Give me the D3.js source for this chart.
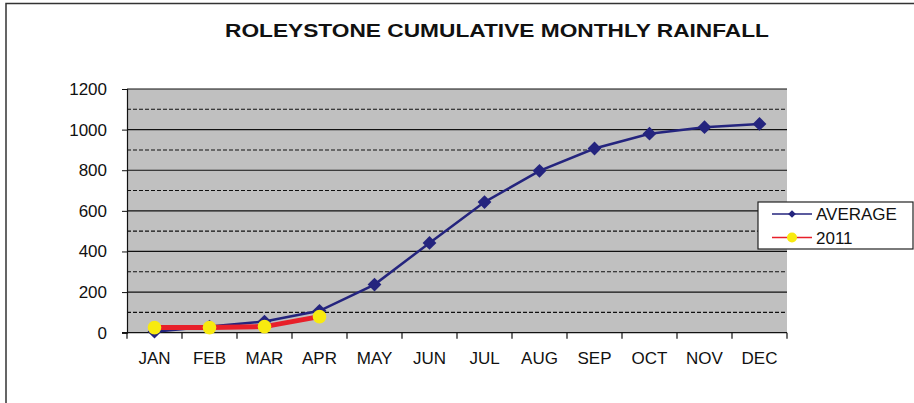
<!DOCTYPE html>
<html><head><meta charset="utf-8">
<script src="https://cdn.jsdelivr.net/npm/d3@7"></script>
<style>body{margin:0;background:#fff}svg{display:block;font-family:"Liberation Sans",Arial,sans-serif}</style>
</head><body>
<svg id="c" width="914" height="403"></svg>
<script>
const months = ["JAN","FEB","MAR","APR","MAY","JUN","JUL","AUG","SEP","OCT","NOV","DEC"];
const average = [5,30,55,108,237,442,643,797,907,980,1012,1028];
const y2011 = [25,25,30,79];
const yTicks = [0,200,400,600,800,1000,1200];
const dashTicks = [100,300,500,700,900,1100];
const title = "ROLEYSTONE CUMULATIVE MONTHLY RAINFALL";

const svg = d3.select("#c");
const L=127,R=787,T=89,B=332.7;
svg.append("path").attr("d","M6,403V3.5H914").attr("fill","none").attr("stroke","#333").attr("stroke-width",1.5);

const x = d3.scaleBand().domain(months).range([L,R]);
const y = d3.scaleLinear().domain([0,1200]).range([B,T]);

svg.append("rect").attr("x",L).attr("y",T).attr("width",R-L).attr("height",B-T).attr("fill","#c0c0c0");
svg.append("g").selectAll("line").data(dashTicks).join("line")
  .attr("x1",L).attr("x2",R).attr("y1",d=>y(d)).attr("y2",d=>y(d))
  .attr("stroke","#111").attr("stroke-width",1.1).attr("stroke-dasharray","4,2");
svg.append("g").selectAll("line").data(yTicks.filter(d=>d>0)).join("line")
  .attr("x1",L).attr("x2",R).attr("y1",d=>y(d)).attr("y2",d=>y(d))
  .attr("stroke","#111").attr("stroke-width",1.2);

const ya = svg.append("g").attr("transform",`translate(${L},0)`)
  .call(d3.axisLeft(y).tickValues(yTicks).tickFormat(d3.format("d")).tickSize(5).tickPadding(15));
ya.attr("font-size",null).attr("font-family",null);
ya.select(".domain").attr("stroke","#111").attr("stroke-width",1.2);
ya.selectAll("line").attr("stroke","#111");
ya.selectAll("text").style("font-size","17px").attr("fill","#111");

const xa = svg.append("g").attr("transform",`translate(0,${B})`)
  .call(d3.axisBottom(x).tickSize(0).tickPadding(19));
xa.attr("font-size",null).attr("font-family",null);
xa.select(".domain").remove();
xa.selectAll("text").style("font-size","17px").attr("fill","#111");
svg.append("line").attr("x1",L-5).attr("x2",R).attr("y1",B).attr("y2",B).attr("stroke","#111").attr("stroke-width",1.2);
svg.append("g").selectAll("line").data(months.concat(["_end"])).join("line")
  .attr("x1",(d,i)=>L+i*x.step()).attr("x2",(d,i)=>L+i*x.step())
  .attr("y1",B).attr("y2",B+6).attr("stroke","#111").attr("stroke-width",1.2);

const cx = d=>x(d)+x.bandwidth()/2;
const line = d3.line().x(d=>cx(d[0])).y(d=>y(d[1]));
const avgData = months.map((m,i)=>[m,average[i]]);
const d11 = y2011.map((v,i)=>[months[i],v]);
const diamond = d3.symbol().type(d3.symbolSquare).size(95);

svg.append("path").attr("d",line(avgData)).attr("fill","none").attr("stroke","#24247e").attr("stroke-width",2.5);
svg.append("g").selectAll("path").data(avgData).join("path")
  .attr("d",diamond).attr("transform",d=>`translate(${cx(d[0])},${y(d[1])}) rotate(45)`).attr("fill","#24247e");
svg.append("path").attr("d",line(d11)).attr("fill","none").attr("stroke","#e8202a").attr("stroke-width",5);
svg.append("g").selectAll("circle").data(d11).join("circle")
  .attr("cx",d=>cx(d[0])).attr("cy",d=>y(d[1])).attr("r",6.8).attr("fill","#f8ea10");

svg.append("text").attr("x",497).attr("y",37).attr("text-anchor","middle")
  .attr("font-size",19).attr("font-weight","bold").attr("fill","#111")
  .attr("textLength",544).attr("lengthAdjust","spacingAndGlyphs").text(title);

const lg = svg.append("g");
lg.append("rect").attr("x",758).attr("y",202).attr("width",155).attr("height",47).attr("fill","#fff").attr("stroke","#222").attr("stroke-width",1.2);
const items = [{n:"AVERAGE",c:"#24247e",m:"d"},{n:"2011",c:"#e8202a",m:"c"}];
items.forEach((it,i)=>{
  const yy = 214+i*23.5;
  lg.append("line").attr("x1",772).attr("x2",812).attr("y1",yy).attr("y2",yy).attr("stroke",it.c).attr("stroke-width",1.5);
  if(it.m==="d") lg.append("path").attr("d",d3.symbol().type(d3.symbolSquare).size(30)()).attr("transform",`translate(792,${yy}) rotate(45)`).attr("fill",it.c);
  else lg.append("circle").attr("cx",792).attr("cy",yy).attr("r",5).attr("fill","#f8ea10");
  lg.append("text").attr("x",816).attr("y",yy+6).attr("font-size",17).attr("fill","#111").text(it.n);
});
</script>
</body></html>
